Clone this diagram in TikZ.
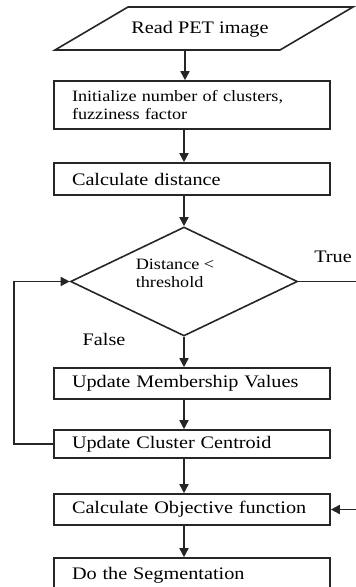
\documentclass[tikz,border=0pt]{standalone}
\usepackage{fontspec}
\setmainfont{Liberation Serif}[FakeStretch=1.15]
\usetikzlibrary{arrows.meta,shapes.geometric,calc}
\begin{document}
\begin{tikzpicture}[x=1pt,y=-1pt, line width=1.6pt, draw=black!85,
 big/.style={font=\fontsize{17.6}{20}\selectfont},
 small/.style={font=\fontsize{15.8}{18}\selectfont},
 box/.style={draw, rectangle, text width=240pt, align=left, inner xsep=18pt, inner ysep=0pt},
 arr/.style={-{Triangle[length=9pt,width=9pt]}}]
\useasboundingbox (0,0) rectangle (356,587);
\clip (0,0) rectangle (356,587);
\node[big, inner sep=0] (r) at (200,29) {Read PET image};
\draw ($(r)+(-145,21)$) -- ($(r)+(80,21)$) -- ($(r)+(153,-22)$) -- ($(r)+(-72,-22)$) -- cycle;
\node[box,small,minimum height=48pt] (b1) at (192,105) {Initialize number of clusters,\\ fuzziness factor};
\node[box,big,minimum height=32pt] (b2) at (192,179) {Calculate distance};
\node[draw,diamond,minimum width=227pt,minimum height=109pt,inner sep=0] (d) at (184,281.5) {};
\node[small,align=left,inner sep=0] (dt) at (175,273) {Distance <\\threshold};
\node[box,big,minimum height=31pt] (b3) at (192,383.5) {Update Membership Values};
\node[box,big,minimum height=28pt] (b4) at (192,444) {Update Cluster Centroid};
\node[box,big,minimum height=31pt] (b5) at (192,509.5) {Calculate Objective function};
\node[box,big,minimum height=34pt] (b6) at (192,575) {Do the Segmentation};
\node[big] (t) at (333,257) {True};
\node[big] (f) at (104,339) {False};
\coordinate (rb) at (185,50);
\coordinate (te) at (356,281.5);
\coordinate (oe) at (356,509.5);
\draw[arr] (rb) -- (rb |- b1.north);
\draw[arr] (b1.south -| d.north) -- (b2.north -| d.north);
\draw[arr] (b2.south -| d.north) -- (d.north);
\draw[arr] (d.south) -- (b3.north -| d.south);
\draw[arr] (b3.south -| d.south) -- (b4.north -| d.south);
\draw[arr] (b4.south -| d.south) -- (b5.north -| d.south);
\draw[arr] (b5.south -| d.south) -- (b6.north -| d.south);
\draw[arr] (b4.west) -- ++(-39,0) |- (d.west);
\draw (d.east) -- (te);
\draw[arr] (oe) -- (b5.east);
\end{tikzpicture}
\end{document}
